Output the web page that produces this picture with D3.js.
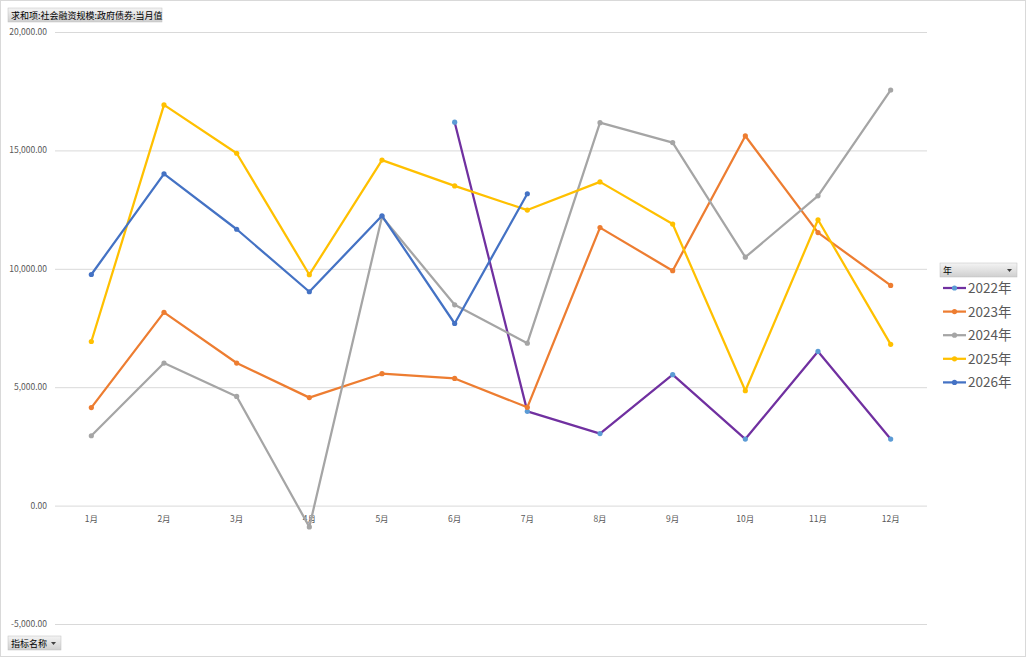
<!DOCTYPE html>
<html>
<head>
<meta charset="utf-8">
<script src="https://cdn.jsdelivr.net/npm/d3@7"></script>
<style>
  html, body { margin: 0; padding: 0; background: #fff; }
  svg { display: block; font-family: "Noto Sans CJK SC", "Noto Sans", sans-serif; }
</style>
</head>
<body>
<svg id="chart" width="1026" height="658"></svg>
<script>
var months = ['1月', '2月', '3月', '4月', '5月', '6月', '7月', '8月', '9月', '10月', '11月', '12月'];
var years = ['2022年', '2023年', '2024年', '2025年', '2026年'];
var yTicks = [-5000, 0, 5000, 10000, 15000, 20000];

// 求和项:社会融资规模:政府债券:当月值 (null = no data)
var v2022 = [null, null, null, null, null, 16190, 3980, 3040, 5530, 2810, 6510, 2810];
var v2023 = [4140, 8160, 6020, 4560, 5570, 5370, 4150, 11740, 9920, 15610, 11530, 9300];
var v2024 = [2950, 6020, 4610, -900, 12200, 8480, 6860, 16170, 15330, 10490, 13080, 17550];
var v2025 = [6930, 16920, 14880, 9750, 14590, 13500, 12480, 13670, 11890, 4850, 12070, 6810];
var v2026 = [9760, 14010, 11670, 9030, 12240, 7690, 13170, null, null, null, null, null];

var lineColors = ['#7030A0', '#ED7D31', '#A5A5A5', '#FFC000', '#4472C4'];
var markerColors = ['#5B9BD5', '#ED7D31', '#A5A5A5', '#FFC000', '#4472C4'];

var series = [v2022, v2023, v2024, v2025, v2026].map(function(vals, i) {
  return { name: years[i], line: lineColors[i], marker: markerColors[i],
           values: vals.map(function(v, j) { return { month: months[j], value: v }; }) };
});

var svg = d3.select('#chart');

// outer frame
svg.append('rect')
  .attr('x', 0.5).attr('y', 0.5)
  .attr('width', 1025).attr('height', 656)
  .attr('fill', '#fff')
  .attr('stroke', '#d9d9d9');

var x = d3.scaleBand().domain(months).range([55, 927]);
var y = d3.scaleLinear().domain([-5000, 20000]).range([624, 32]);

// gridlines
svg.append('g')
  .selectAll('line')
  .data(yTicks)
  .enter().append('line')
  .attr('x1', 55).attr('x2', 927)
  .attr('y1', (d) => y(d) + 0.5).attr('y2', (d) => y(d) + 0.5)
  .attr('stroke', '#d9d9d9')
  .attr('stroke-width', 1);

// excel style: plain hyphen for negatives
var fmt = (d) => d3.format(',.2f')(d).replace('\u2212', '-');

// y axis labels
svg.append('g')
  .selectAll('text')
  .data(yTicks)
  .enter().append('text')
  .attr('x', 47)
  .attr('y', (d) => y(d) + 3)
  .attr('text-anchor', 'end')
  .attr('font-size', 8.5)
  .attr('fill', '#595959')
  .text((d) => fmt(d));

// x axis labels
var xAxis = svg.append('g')
  .attr('transform', 'translate(0,' + (y(0) + 1) + ')')
  .call(d3.axisBottom(x).tickSize(0).tickPadding(9));
xAxis.select('.domain').remove();
xAxis.selectAll('text')
  .attr('font-size', 8.5)
  .attr('fill', '#595959')
  .attr('font-family', '"Noto Sans CJK SC", sans-serif');

var cx = (d) => x(d.month) + x.bandwidth() / 2;

var line = d3.line()
  .defined((d) => d.value !== null)
  .x(cx)
  .y((d) => y(d.value));

var groups = svg.append('g')
  .selectAll('g')
  .data(series)
  .enter().append('g');

groups.append('path')
  .attr('d', (d) => line(d.values))
  .attr('fill', 'none')
  .attr('stroke', (d) => d.line)
  .attr('stroke-width', 2.25)
  .attr('stroke-linejoin', 'round');

groups.each(function(s) {
  d3.select(this).selectAll('circle')
    .data(s.values.filter((d) => d.value !== null))
    .enter().append('circle')
    .attr('cx', cx)
    .attr('cy', (d) => y(d.value))
    .attr('r', 2.6)
    .attr('fill', s.marker);
});

// field buttons
var grad = svg.append('defs').append('linearGradient')
  .attr('id', 'btn').attr('x1', 0).attr('y1', 0).attr('x2', 0).attr('y2', 1);
grad.append('stop').attr('offset', '0%').attr('stop-color', '#f4f4f4');
grad.append('stop').attr('offset', '100%').attr('stop-color', '#cfcfcf');

function fieldButton(bx, by, w, label, arrow) {
  var b = svg.append('g').attr('transform', 'translate(' + bx + ',' + by + ')');
  b.append('rect').attr('width', w).attr('height', 14)
    .attr('fill', 'url(#btn)').attr('stroke', '#bfbfbf').attr('stroke-width', 0.5);
  b.append('text').attr('x', 3).attr('y', 10.5)
    .attr('font-size', 9).attr('fill', '#000').text(label);
  if (arrow) {
    b.append('path')
      .attr('d', 'M' + (w - 10) + ',6 l5,0 l-2.5,3 z')
      .attr('fill', '#404040');
  }
}

fieldButton(8, 8, 154, '求和项:社会融资规模:政府债券:当月值', false);
fieldButton(8, 636, 53, '指标名称', true);
fieldButton(940, 263, 77, '年', true);

// legend
var legend = svg.append('g')
  .selectAll('g')
  .data(series)
  .enter().append('g')
  .attr('transform', (d, i) => 'translate(943,' + (288 + i * 23.6) + ')');

legend.append('line')
  .attr('x1', 0).attr('x2', 23)
  .attr('stroke', (d) => d.line)
  .attr('stroke-width', 2.25);
legend.append('circle')
  .attr('cx', 11.5).attr('r', 2.6)
  .attr('fill', (d) => d.marker);
legend.append('text')
  .attr('x', 25).attr('y', 5)
  .attr('font-size', 13.5)
  .attr('fill', '#595959')
  .text((d) => d.name);
</script>
</body>
</html>
